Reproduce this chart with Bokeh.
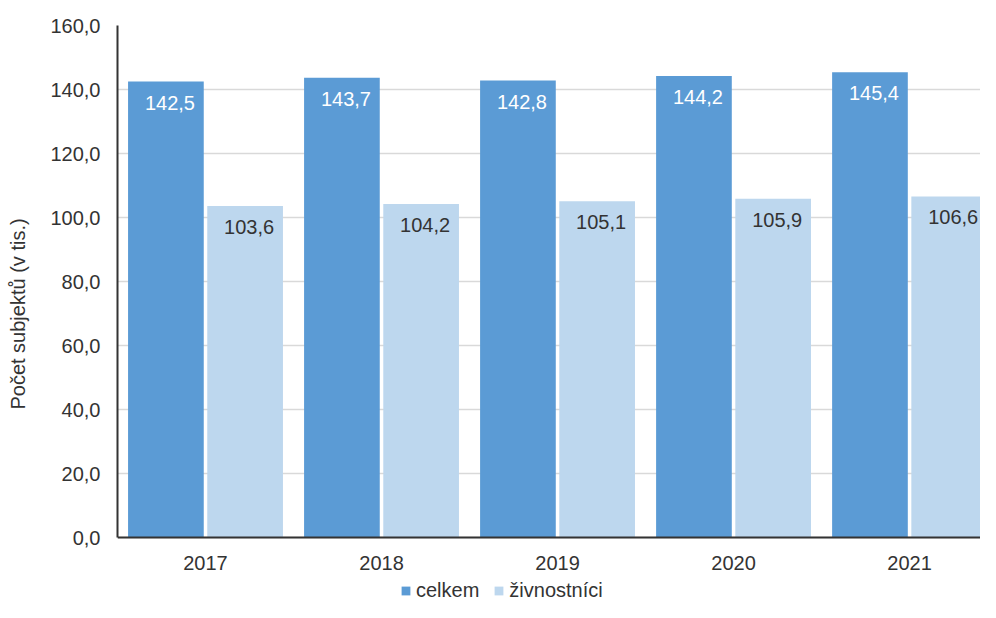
from bokeh.plotting import figure
from bokeh.models import ColumnDataSource, Range1d, FixedTicker, Legend, LegendItem
from bokeh.transform import dodge
from bokeh.core.properties import value
from bokeh.embed import file_html
from bokeh.resources import INLINE

years = ["2017", "2018", "2019", "2020", "2021"]
celkem = [142.5, 143.7, 142.8, 144.2, 145.4]
zivnostnici = [103.6, 104.2, 105.1, 105.9, 106.6]
y_ticks = [0, 20, 40, 60, 80, 100, 120, 140, 160]

FONT = "Liberation Sans"
FS = "20px"
C1 = "#5b9bd5"
C2 = "#bdd7ee"

idx = list(range(len(years)))
src = ColumnDataSource(dict(
    x=idx,
    celkem=celkem,
    ziv=zivnostnici,
    celkem_lbl=[f"{v:.1f}".replace(".", ",") for v in celkem],
    ziv_lbl=[f"{v:.1f}".replace(".", ",") for v in zivnostnici],
))

p = figure(width=980, height=602, output_backend="svg", toolbar_location=None,
           x_range=Range1d(-0.5, 4.403), y_range=Range1d(-20.3, 160),
           min_border_left=117, min_border_right=0, min_border_top=25, min_border_bottom=0)
p.outline_line_color = None
p.background_fill_color = "white"

b1 = p.vbar(x=dodge("x", -0.225, range=p.x_range), top="celkem", width=0.43, source=src,
            fill_color=C1, line_color=None)
b2 = p.vbar(x=dodge("x", 0.225, range=p.x_range), top="ziv", width=0.43, source=src,
            fill_color=C2, line_color=None)

p.text(x=dodge("x", -0.225, range=p.x_range), y="celkem", text="celkem_lbl", source=src,
       text_align="center", text_baseline="middle", x_offset=4, y_offset=21,
       text_color="white", text_font=value(FONT), text_font_size=FS)
p.text(x=dodge("x", 0.225, range=p.x_range), y="ziv", text="ziv_lbl", source=src,
       text_align="center", text_baseline="middle", x_offset=4, y_offset=21,
       text_color="#333333", text_font=value(FONT), text_font_size=FS)

# axes
p.xaxis.ticker = FixedTicker(ticks=idx)
p.xaxis.major_label_overrides = {i: y for i, y in enumerate(years)}
p.xaxis.fixed_location = 0
p.yaxis.ticker = FixedTicker(ticks=y_ticks)
p.yaxis.major_label_overrides = {t: f"{t:.1f}".replace(".", ",") for t in y_ticks}
p.yaxis.bounds = (0, 160)
for ax in (p.xaxis, p.yaxis):
    ax.major_tick_line_color = None
    ax.minor_tick_line_color = None
    ax.axis_line_color = "#333333"
    ax.axis_line_width = 2
    ax.major_label_text_font = FONT
    ax.major_label_text_font_size = FS
    ax.major_label_text_color = "#333333"
p.xaxis.major_label_standoff = 12
p.yaxis.major_label_standoff = 11
p.yaxis.axis_label = "Počet subjektů (v tis.)"
p.yaxis.axis_label_text_font = FONT
p.yaxis.axis_label_text_font_size = FS
p.yaxis.axis_label_text_font_style = "normal"
p.yaxis.axis_label_text_color = "#333333"
p.yaxis.axis_label_standoff = 18

p.xgrid.grid_line_color = None
p.ygrid.grid_line_color = "#d9d9d9"
p.ygrid.grid_line_width = 1.5

legend = Legend(items=[LegendItem(label="celkem", renderers=[b1]),
                       LegendItem(label="živnostníci", renderers=[b2])],
                orientation="horizontal", location=(283, 0),
                glyph_width=11, glyph_height=11, label_standoff=5, spacing=14,
                padding=0, margin=0, border_line_color=None, background_fill_alpha=0,
                label_text_font=FONT, label_text_font_size=FS, label_text_color="#333333")
p.add_layout(legend, "center")

open("out.html", "w").write(file_html(p, INLINE))
